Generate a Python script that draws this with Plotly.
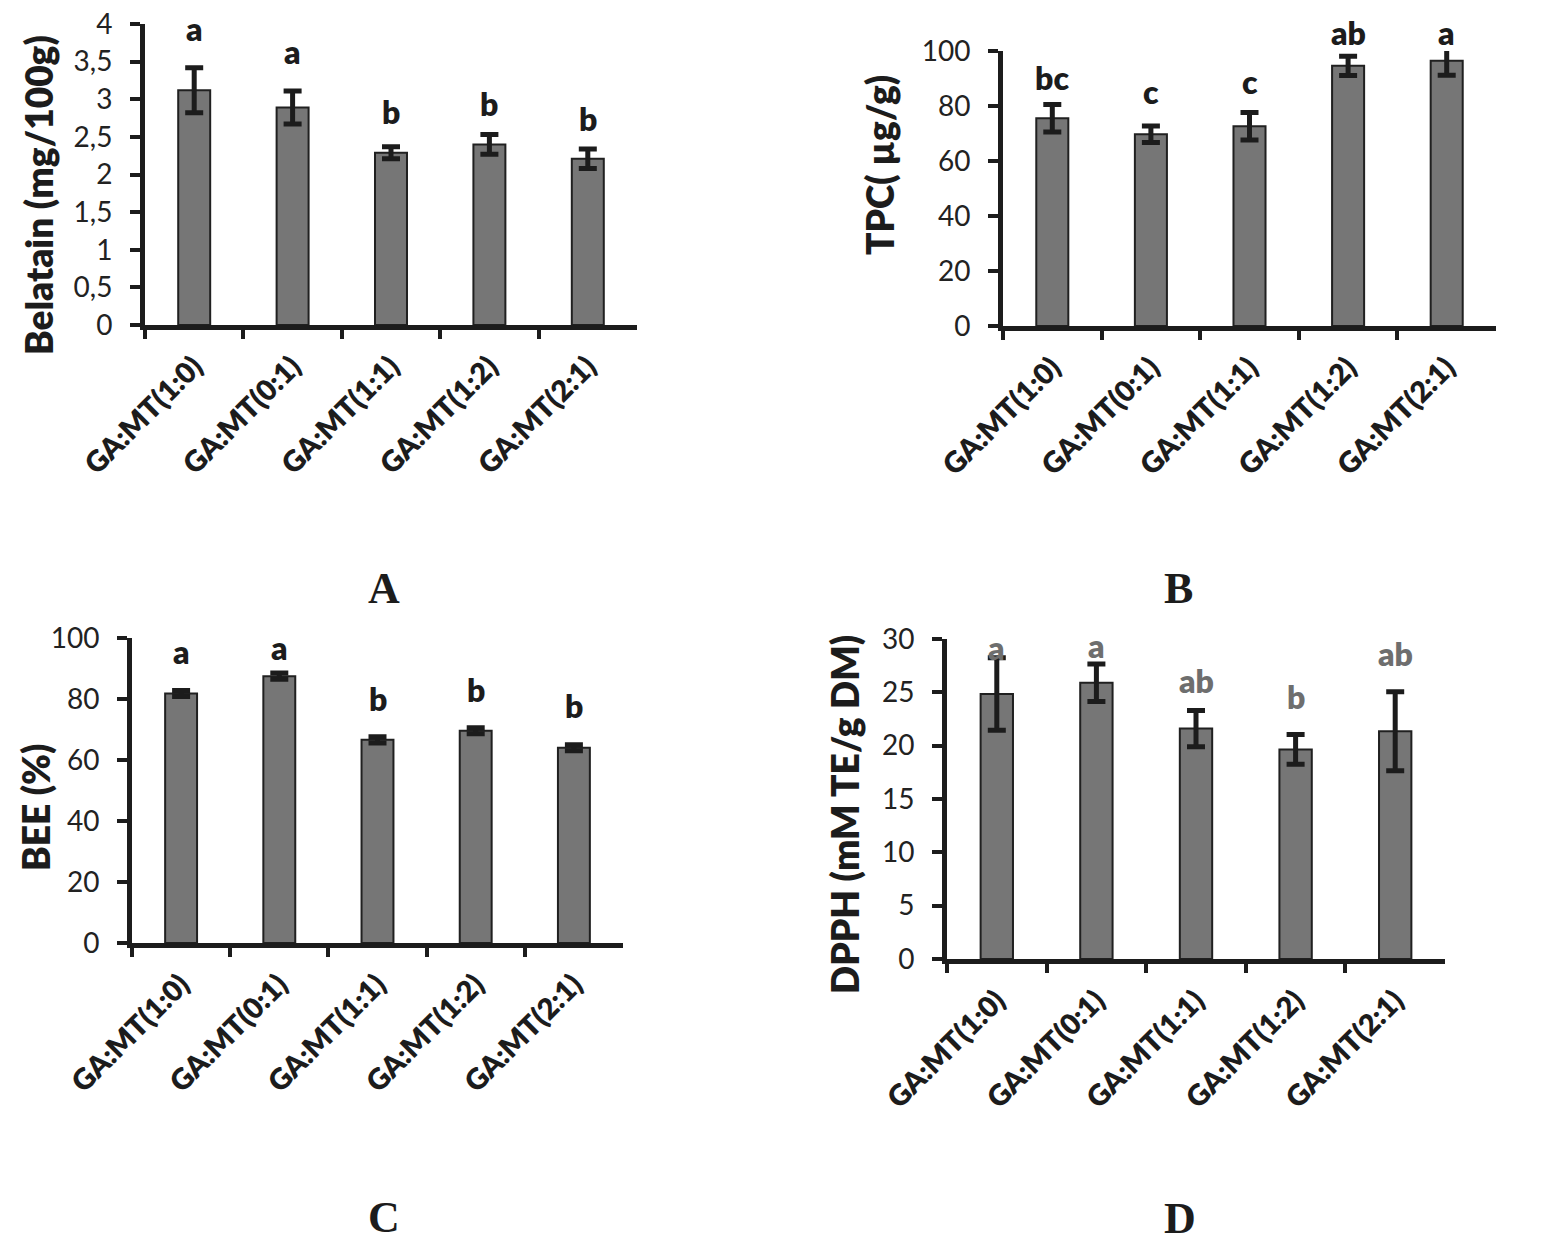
import plotly.graph_objects as go

# ---------------- data ----------------
categories = ["GA:MT(1:0)", "GA:MT(0:1)", "GA:MT(1:1)", "GA:MT(1:2)", "GA:MT(2:1)"]

belatain = [3.12, 2.89, 2.29, 2.40, 2.21]
belatain_err = [0.30, 0.22, 0.08, 0.13, 0.13]
belatain_letters = ["a", "a", "b", "b", "b"]
belatain_letter_y = [3.76, 3.46, 2.66, 2.77, 2.57]
belatain_ticks = [0, 0.5, 1, 1.5, 2, 2.5, 3, 3.5, 4]
belatain_ticktext = ["0", "0,5", "1", "1,5", "2", "2,5", "3", "3,5", "4"]

tpc = [75.5, 69.7, 72.6, 94.6, 96.5]
tpc_err = [5.0, 3.0, 5.0, 3.5, 5.3]
tpc_letters = ["bc", "c", "c", "ab", "a"]
tpc_letter_y = [85.3, 80.5, 84.1, 101.8, 101.8]
tpc_ticks = [0, 20, 40, 60, 80, 100]

bee = [81.8, 87.5, 66.6, 69.6, 64.0]
bee_err = [1.0, 1.0, 1.0, 1.0, 1.0]
bee_letters = ["a", "a", "b", "b", "b"]
bee_letter_y = [91.1, 92.5, 75.9, 78.8, 73.5]
bee_ticks = [0, 20, 40, 60, 80, 100]

dpph = [24.85, 25.9, 21.6, 19.65, 21.35]
dpph_err = [3.4, 1.75, 1.7, 1.4, 3.7]
dpph_letters = ["a", "a", "ab", "b", "ab"]
dpph_letter_y = [27.9, 28.1, 24.8, 23.3, 27.4]
dpph_ticks = [0, 5, 10, 15, 20, 25, 30]

panel_labels = ["A", "B", "C", "D"]
axis_titles = ["Belatain (mg/100g)", "TPC( µg/g)", "BEE (%)", "DPPH (mM TE/g DM)"]

# ---------------- layout geometry (pixels) ----------------
W, H = 1542, 1246
FONT = "Lato"
INK = "#1c1c1c"
HEAVY = 800

panels = [
    dict(vals=belatain, err=belatain_err, letters=belatain_letters, ly=belatain_letter_y,
         ticks=belatain_ticks, ticktext=belatain_ticktext, yr=[0, 4],
         px=(145, 637), py=(24, 325), title_xy=(38, 195), label_xy=(384, 588),
         letter_color=INK),
    dict(vals=tpc, err=tpc_err, letters=tpc_letters, ly=tpc_letter_y,
         ticks=tpc_ticks, ticktext=[str(t) for t in tpc_ticks], yr=[0, 100],
         px=(1003, 1496), py=(51, 326), title_xy=(880, 165), label_xy=(1178, 588),
         letter_color=INK),
    dict(vals=bee, err=bee_err, letters=bee_letters, ly=bee_letter_y,
         ticks=bee_ticks, ticktext=[str(t) for t in bee_ticks], yr=[0, 100],
         px=(132, 623), py=(638, 943), title_xy=(36, 808), label_xy=(384, 1217),
         letter_color=INK),
    dict(vals=dpph, err=dpph_err, letters=dpph_letters, ly=dpph_letter_y,
         ticks=dpph_ticks, ticktext=[str(t) for t in dpph_ticks], yr=[0, 30],
         px=(947, 1445), py=(639, 959), title_xy=(844, 815), label_xy=(1180, 1218),
         letter_color="#6e6e6e"),
]

fig = go.Figure()
annotations = []
layout_axes = {}

for i, p in enumerate(panels):
    n = "" if i == 0 else str(i + 1)
    xa, ya = "x" + n, "y" + n
    fig.add_trace(go.Bar(
        x=categories, y=p["vals"], xaxis=xa, yaxis=ya,
        marker=dict(color="#767676", line=dict(color="#202020", width=2)),
        error_y=dict(type="data", array=p["err"], visible=True,
                     color=INK, thickness=5, width=9),
        cliponaxis=False, hoverinfo="skip",
    ))
    xd = [p["px"][0] / W, p["px"][1] / W]
    yd = [1 - p["py"][1] / H, 1 - p["py"][0] / H]
    layout_axes["xaxis" + n] = dict(
        domain=xd, anchor=ya, type="category", range=[-0.5, 4.5], automargin=False,
        showline=True, linecolor=INK, linewidth=5, mirror=False,
        ticks="outside", tickson="boundaries", ticklen=9, tickwidth=4, tickcolor=INK,
        ticklabelstandoff=8,
        tickangle=-45, tickfont=dict(family=FONT, size=29, color=INK, weight=HEAVY),
        showgrid=False, zeroline=False, fixedrange=True,
    )
    layout_axes["yaxis" + n] = dict(
        domain=yd, anchor=xa, range=p["yr"], tickmode="array", automargin=False,
        tickvals=p["ticks"], ticktext=p["ticktext"],
        showline=True, linecolor=INK, linewidth=5,
        ticks="outside", ticklen=10, tickwidth=4, tickcolor=INK,
        ticklabelstandoff=12,
        tickfont=dict(family=FONT, size=28, color="#222222"),
        showgrid=False, zeroline=False, fixedrange=True,
    )
    # significance letters (placed relative to the y axis domain so they may sit above the range)
    for c, t, yv in zip(categories, p["letters"], p["ly"]):
        annotations.append(dict(
            x=c, y=yv / p["yr"][1], xref=xa, yref=ya + " domain", text=t, showarrow=False,
            xanchor="center", yanchor="bottom", yshift=-8,
            font=dict(family=FONT, size=32, color=p["letter_color"], weight=HEAVY),
        ))
    # axis title
    tx, ty = p["title_xy"]
    annotations.append(dict(
        x=tx / W, y=1 - ty / H, xref="paper", yref="paper", text=axis_titles[i],
        showarrow=False, textangle=-90, xanchor="center", yanchor="middle",
        font=dict(family=FONT, size=37, color=INK, weight=HEAVY),
    ))
    # panel label
    lx, ly = p["label_xy"]
    annotations.append(dict(
        x=lx / W, y=1 - ly / H, xref="paper", yref="paper", text=panel_labels[i],
        showarrow=False, xanchor="center", yanchor="middle",
        font=dict(family="Liberation Serif", size=44, color=INK, weight="bold"),
    ))

fig.update_layout(
    width=W, height=H, margin=dict(l=0, r=0, t=0, b=0, autoexpand=False),
    paper_bgcolor="white", plot_bgcolor="white", showlegend=False,
    bargap=0.675, annotations=annotations, **layout_axes,
)

fig.write_html("out.html", config={"displayModeBar": False, "staticPlot": True},
               post_script="document.body.style.margin='0px';")
